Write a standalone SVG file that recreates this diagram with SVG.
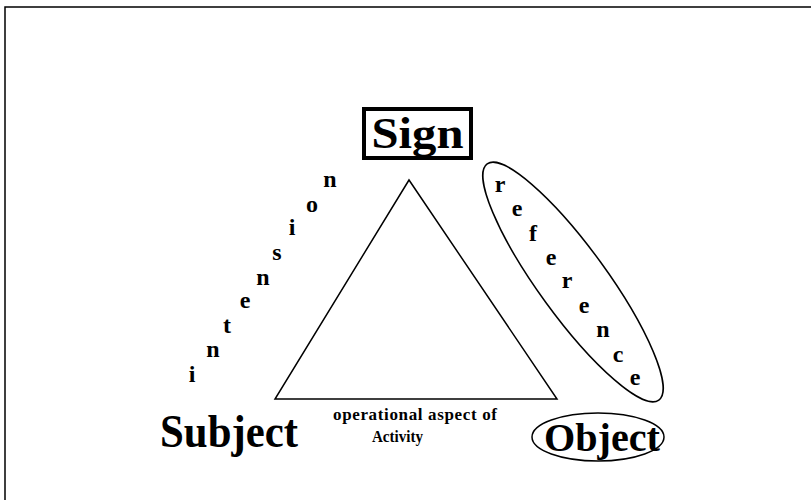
<svg xmlns="http://www.w3.org/2000/svg" width="811" height="500" viewBox="0 0 811 500">
<style>
.t{font-family:"Liberation Serif","Times New Roman",serif;font-weight:bold;fill:#000}
.l{font-size:24px;text-anchor:middle}
.ln{fill:none;stroke:#000;stroke-width:1.5}
</style>
<rect width="811" height="500" fill="#fff"/>
<path class="ln" d="M5,500 V7 H811"/>
<g id="connectors">
<polygon class="ln" points="409,180 275,399 557,399"/>
</g>
<g id="sign">
<rect x="364" y="109" width="107" height="49" fill="none" stroke="#000" stroke-width="4"/>
<text class="t" x="417.5" y="148" font-size="45" text-anchor="middle" textLength="92" lengthAdjust="spacingAndGlyphs">Sign</text>
</g>
<g id="subject">
<text class="t" x="160" y="447" font-size="46" textLength="138" lengthAdjust="spacingAndGlyphs">Subject</text>
</g>
<g id="object">
<ellipse class="ln" cx="598" cy="437" rx="66" ry="24"/>
<text class="t" x="544" y="451" font-size="40" textLength="116" lengthAdjust="spacingAndGlyphs">Object</text>
</g>
<g id="activity">
<text class="t" x="333" y="420" font-size="17" textLength="164" lengthAdjust="spacing">operational aspect of</text>
<text class="t" x="372" y="442" font-size="17" textLength="51" lengthAdjust="spacingAndGlyphs">Activity</text>
</g>
<g id="intension">
<text class="t l" x="192" y="382">i</text>
<text class="t l" x="213" y="357">n</text>
<text class="t l" x="227" y="333">t</text>
<text class="t l" x="245" y="308">e</text>
<text class="t l" x="263" y="285">n</text>
<text class="t l" x="277" y="260">s</text>
<text class="t l" x="292" y="235">i</text>
<text class="t l" x="312" y="212">o</text>
<text class="t l" x="330" y="187">n</text>
</g>
<g id="reference">
<ellipse class="ln" cx="573" cy="282" rx="146" ry="34" transform="rotate(54 573 282)"/>
<text class="t l" x="500" y="192">r</text>
<text class="t l" x="517" y="216">e</text>
<text class="t l" x="533" y="241">f</text>
<text class="t l" x="551" y="265">e</text>
<text class="t l" x="567" y="288">r</text>
<text class="t l" x="584" y="313">e</text>
<text class="t l" x="603" y="337">n</text>
<text class="t l" x="618" y="362">c</text>
<text class="t l" x="635" y="385">e</text>
</g>
</svg>
